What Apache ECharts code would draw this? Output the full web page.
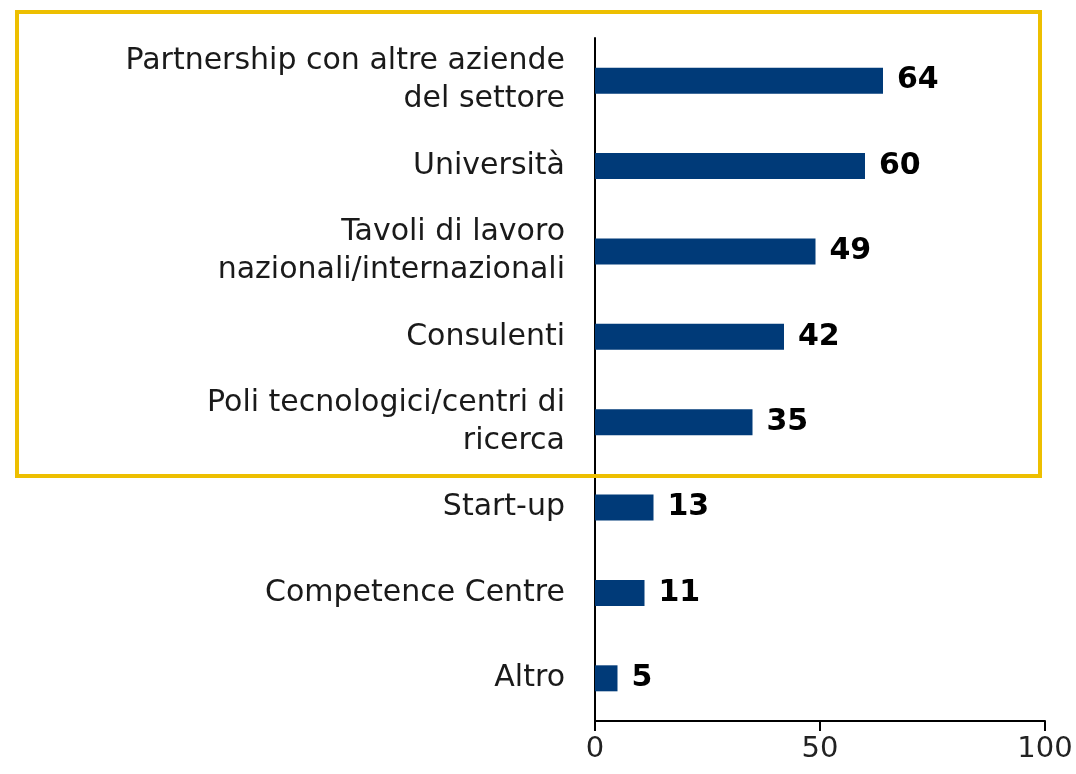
<!DOCTYPE html>
<html>
<head>
<meta charset="utf-8">
<script src="https://cdn.jsdelivr.net/npm/echarts@6/dist/echarts.min.js"></script>
<style>
  html, body { margin: 0; padding: 0; background: #fff; }
  #chart { width: 1076px; height: 774px; }
</style>
</head>
<body>
<div id="chart"></div>
<script>
// categorie (dall'alto in basso)
var categories = [
  'Partnership con altre aziende\ndel settore',
  'Università',
  'Tavoli di lavoro\nnazionali/internazionali',
  'Consulenti',
  'Poli tecnologici/centri di\nricerca',
  'Start-up',
  'Competence Centre',
  'Altro'
];
var values = [64, 60, 49, 42, 35, 13, 11, 5];
var xTicks = [0, 50, 100];

var wideFont = '"DejaVu Sans", sans-serif';
var chart = echarts.init(document.getElementById('chart'));

chart.setOption({
  backgroundColor: '#fff',
  animation: false,
  grid: { left: 595, right: 31, top: 38, bottom: 53, containLabel: false },
  xAxis: {
    type: 'value',
    min: xTicks[0],
    max: xTicks[xTicks.length - 1],
    interval: 50,
    splitLine: { show: false },
    axisLine: { show: true, lineStyle: { color: '#000', width: 2 } },
    axisTick: { show: true, length: 10, lineStyle: { color: '#000', width: 2 } },
    axisLabel: { color: '#222', fontSize: 29, fontFamily: wideFont, margin: 14 }
  },
  yAxis: {
    type: 'category',
    data: categories,
    inverse: true,
    axisLine: { show: true, lineStyle: { color: '#000', width: 2 } },
    axisTick: { show: false },
    axisLabel: {
      color: '#1a1a1a', fontSize: 30, fontFamily: wideFont,
      lineHeight: 38, margin: 30, align: 'right'
    }
  },
  series: [{
    type: 'bar',
    data: values,
    barWidth: 26,
    itemStyle: { color: '#003A78' },
    label: {
      show: true, position: 'right', distance: 14,
      color: '#000', fontSize: 30, fontWeight: 'bold', fontFamily: wideFont
    }
  }],
  graphic: [{
    type: 'rect',
    shape: { x: 17, y: 12, width: 1023, height: 464 },
    style: { fill: 'none', stroke: '#EDBF00', lineWidth: 4 },
    z: 100
  }]
});
</script>
</body>
</html>
